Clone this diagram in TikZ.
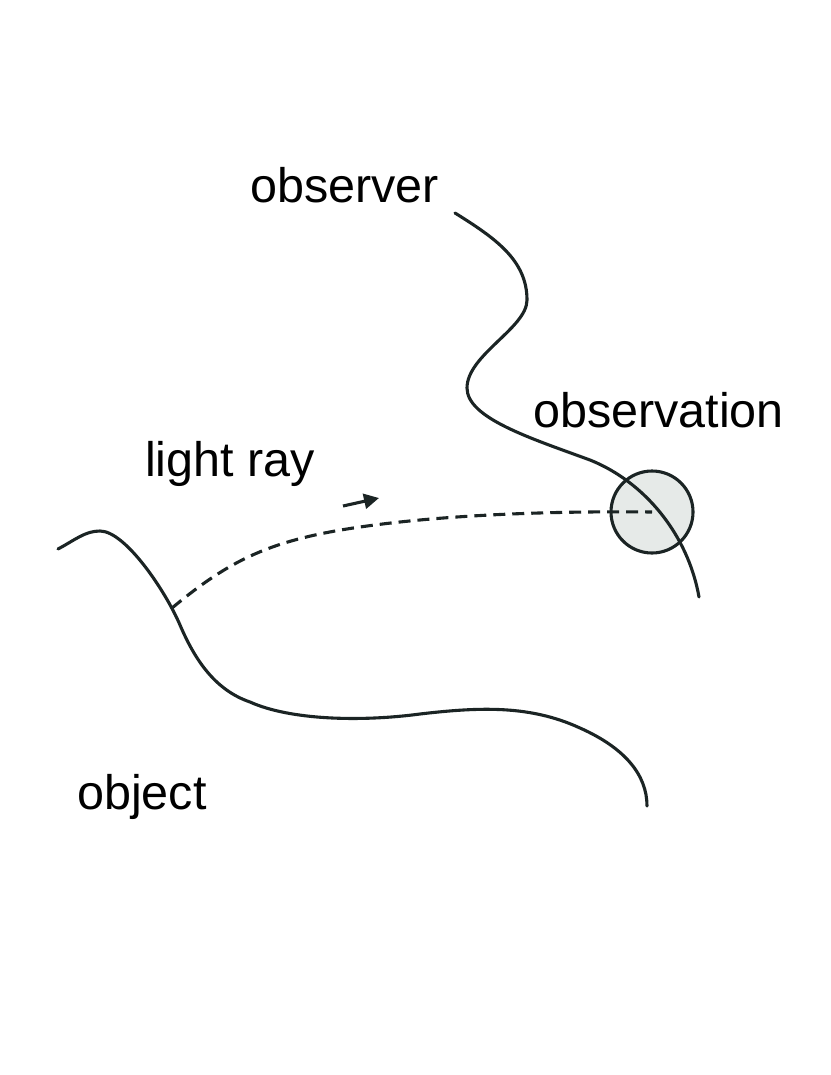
\documentclass[tikz,border=0pt]{standalone}
\usepackage{fontspec}
\setmainfont{Liberation Sans}
\usetikzlibrary{arrows.meta}
\definecolor{ink}{HTML}{1B2424}
\definecolor{circfill}{HTML}{E6EAE8}
\begin{document}
\begin{tikzpicture}[x=1pt,y=-1pt,
  curve/.style={draw=ink,line width=3.1pt,line cap=round,line join=round},
  ray/.style={draw=ink,line width=3.1pt,dash pattern=on 12pt off 7pt},
  lbl/.style={font=\fontsize{48.5}{58}\selectfont,text=black,anchor=base west,inner sep=0pt},
  spot/.style={circle,draw=ink,fill=circfill,line width=3.1pt,minimum size=82pt,inner sep=0pt}]
\useasboundingbox (0,0) rectangle (830,1075);
% labels
\node[lbl] (tobserver) at (250,203) {observer};
\node[lbl] (tobservation) at (533,427) {observation};
\node[lbl] (tlight) at (145,476) {light ray};
\node[lbl] (tobject) at (77,809) {object};
% observation circle
\node[spot] (obs) at (652,512) {};
% dashed light ray
\coordinate (src) at (172,608);
\draw[ray] (src) .. controls (230,560) and (270,540) .. (360,527)
  .. controls (450,514) and (560,511) .. (obs.center);
% object curve
\draw[curve] (58,549) .. controls (75,540) and (85,531) .. (100,531)
  .. controls (125,531) and (165,590) .. (180,625)
  .. controls (195,660) and (215,690) .. (250,702)
  .. controls (290,720) and (360,722) .. (420,714)
  .. controls (480,707) and (530,705) .. (580,728)
  .. controls (625,748) and (647,775) .. (647,806);
% observer curve
\draw[curve] (455,213) .. controls (495,238) and (527,260) .. (527,300)
  .. controls (527,328) and (467,355) .. (467,388)
  .. controls (467,418) and (530,438) .. (590,460)
  .. controls (645,482) and (688,535) .. (699,597);
% arrow
\coordinate (a1) at (343,506);
\coordinate (a2) at (379,498);
\draw[draw=ink,line width=3.1pt,-{Triangle[length=15pt,width=15pt]}] (a1) -- (a2);
\end{tikzpicture}
\end{document}
